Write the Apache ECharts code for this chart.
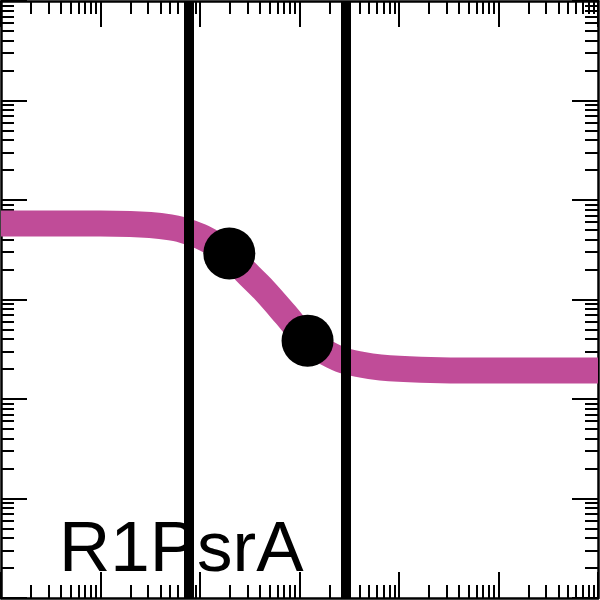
<!DOCTYPE html>
<html>
<head>
<meta charset="utf-8">
<script src="https://cdn.jsdelivr.net/npm/echarts@6/dist/echarts.min.js"></script>
<style>html,body{margin:0;padding:0;background:#fff}#c{width:600px;height:600px}</style>
</head>
<body>
<div id="c"></div>
<script>
// ---- data ----
var curveX = [1, 3.11, 9.93, 19.9, 31.6, 50.3, 63.4, 100.8, 143, 197, 286, 434, 723, 1205, 1628, 2588, 4113, 6540, 16520, 66400, 1000000];
var curveY = [5821, 5821, 5821, 5754, 5598, 5309, 5070, 4309, 3578, 2905, 1914, 1261, 706, 386, 314, 249, 222, 207, 197, 193, 193];
var pointX = [197, 1205];
var pointY = [2905, 386];
var lineFrontX = [76.3];
var lineBackX = [2904];
var label = 'R1PsrA';
var decades = [1, 10, 100, 1000, 10000, 100000, 1000000];
var minorMult = [2, 3, 4, 5, 6, 7, 8, 9];

var minors = [];
decades.slice(0, -1).forEach(function (d) { minorMult.forEach(function (m) { minors.push(d * m); }); });

var chart = echarts.init(document.getElementById('c'), null, {renderer: 'canvas'});
function ax(pos, vals, len, showLine) {
  return {
    type: 'log', logBase: 10, min: 1, max: 1000000, position: pos,
    axisLine: {show: showLine, onZero: false, lineStyle: {color: '#000', width: 2.5}},
    axisTick: {show: true, inside: true, length: len, customValues: vals, lineStyle: {color: '#000', width: 2}},
    axisLabel: {show: false},
    splitLine: {show: false},
    minorTick: {show: false}
  };
}
var option = {
  animation: false,
  backgroundColor: '#fff',
  grid: {left: 1, right: 2, top: 1, bottom: 2, containLabel: false},
  xAxis: [ax('bottom', decades, 26, true), ax('bottom', minors, 13, false), ax('top', decades, 26, true), ax('top', minors, 13, false)],
  yAxis: [ax('left', decades, 26, true), ax('left', minors, 13, false), ax('right', decades, 26, true), ax('right', minors, 13, false)],
  graphic: [{
    type: 'text', left: 59, top: 516, z: 5,
    style: {text: label, font: '71px "Liberation Sans", Arial, sans-serif', fill: '#000'}
  }],
  series: [
    {
      type: 'line', data: [], z: 1, silent: true,
      markLine: {symbol: ['none', 'none'], silent: true, label: {show: false},
        lineStyle: {color: '#000', width: 10, type: 'solid'},
        data: lineBackX.map(function (v) { return {xAxis: v}; })}
    },
    {
      type: 'line', z: 2, smooth: 0.35, showSymbol: false, silent: true,
      lineStyle: {color: '#c04c98', width: 26, cap: 'butt'},
      data: curveX.map(function (x, i) { return [x, curveY[i]]; })
    },
    {
      type: 'line', data: [], z: 3, silent: true,
      markLine: {symbol: ['none', 'none'], silent: true, label: {show: false},
        lineStyle: {color: '#000', width: 10, type: 'solid'},
        data: lineFrontX.map(function (v) { return {xAxis: v}; })}
    },
    {
      type: 'scatter', z: 4, symbolSize: 52, itemStyle: {color: '#000', opacity: 1},
      data: pointX.map(function (x, i) { return [x, pointY[i]]; })
    }
  ]
};
chart.setOption(option);
</script>
</body>
</html>
